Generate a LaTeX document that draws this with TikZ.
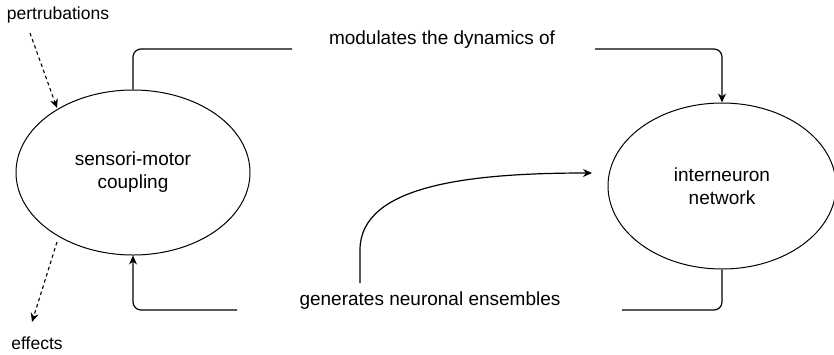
\documentclass[tikz,border=0pt]{standalone}
\usepackage{fontspec}
\setmainfont{Liberation Sans}
\usetikzlibrary{shapes.geometric,arrows.meta}
\begin{document}
\begin{tikzpicture}[x=1pt,y=-1pt,
  ell/.style={draw, line width=1pt, ellipse, inner sep=0pt, align=center,
    font=\fontsize{19}{23}\selectfont},
  lbl/.style={inner sep=0pt, font=\fontsize{19}{23}\selectfont},
  small/.style={inner sep=0pt, font=\fontsize{17.5}{21}\selectfont},
  conn/.style={line width=1.2pt, -{Stealth[length=9pt,width=8pt]}},
  plain/.style={line width=1.2pt},
  dashconn/.style={line width=1.1pt, dash pattern=on 3.5pt off 3pt, -{Stealth[length=9pt,width=8pt]}}]
\useasboundingbox (0,0) rectangle (834,354);
\clip (0,0) rectangle (834,354);
\node[ell, minimum width=234pt, minimum height=165pt] (sm) at (133,172.5) {sensori-motor\\coupling};
\node[ell, minimum width=228pt, minimum height=166pt] (in) at (722,186) {interneuron\\network};
\node[lbl] (mod) at (442,40) {modulates the dynamics of};
\node[lbl] (gen) at (430,301) {generates neuronal ensembles};
\node[small] (pert) at (58,15) {pertrubations};
\node[small] (eff) at (37,343) {effects};
\coordinate (c1) at (292,49);
\coordinate (c2) at (595,49);
\coordinate (c3) at (622,310);
\coordinate (c4) at (237,310);
\coordinate (cs) at (360,283);
\coordinate (ce) at (592,173);
\coordinate (ps) at (30,33);
\coordinate (pe) at (57,108);
\coordinate (es) at (57,242);
\coordinate (ee) at (32,322);
\draw[plain, rounded corners=8pt] (sm.north) |- (c1);
\draw[conn, rounded corners=8pt] (c2) -| (in.north);
\draw[plain, rounded corners=8pt] (in.south) |- (c3);
\draw[conn, rounded corners=8pt] (c4) -| (sm.south);
\draw[conn] (cs) -- (360,250) .. controls (360,185) and (470,173) .. (ce);
\draw[dashconn] (ps) -- (pe);
\draw[dashconn] (es) -- (ee);
\end{tikzpicture}
\end{document}
